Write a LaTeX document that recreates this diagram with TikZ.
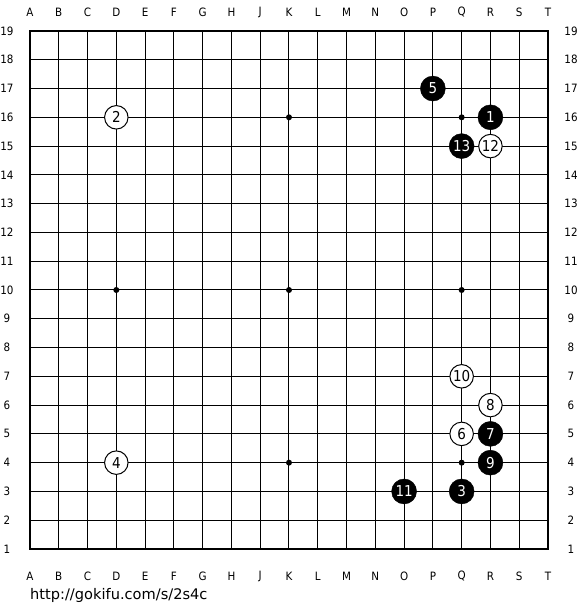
\documentclass[tikz,border=0pt]{standalone}
\usepackage{fontspec}
\setmainfont{DejaVu Sans}
\newfontfamily\condfont{DejaVu Sans Condensed}
\usetikzlibrary{positioning}

\begin{document}
\begin{tikzpicture}[
    x=28.78pt, y=28.78pt,
    bstone/.style={circle, draw=black, fill=black, inner sep=0pt,
                   minimum size=25pt, text=white, font=\condfont\fontsize{15}{15}\selectfont},
    wstone/.style={circle, draw=black, fill=white, line width=1pt, inner sep=0pt,
                   minimum size=23.5pt, text=black, font=\condfont\fontsize{15}{15}\selectfont},
    coordlbl/.style={font=\condfont\fontsize{11.5}{11.5}\selectfont, inner sep=0pt}
]
\useasboundingbox (-1.042,-2.12) rectangle (19.11,19.077);
% griglia
\foreach \i in {1,...,17}{
    \draw[line width=1pt] (\i,0) -- (\i,18);
    \draw[line width=1pt] (0,\i) -- (18,\i);
}
\draw[line width=2pt] (0,0) rectangle (18,18);
% hoshi
\foreach \x in {3,9,15}{
    \foreach \y in {3,9,15}{
        \fill (\x,\y) circle (3pt);
    }
}
% coordinate
\foreach \c [count=\i from 0] in {A,B,C,D,E,F,G,H,J,K,L,M,N,O,P,Q,R,S,T}{
    \node[coordlbl] (top\c) at (\i,18.66) {\c};
    \node[coordlbl] (bot\c) at (\i,-0.94) {\c};
}
\foreach \r in {1,...,19}{
    \node[coordlbl] (left\r) at (-0.80,\r-1) {\r};
    \node[coordlbl] (right\r) at (18.80,\r-1) {\r};
}
% pietre nere
\node[bstone] (m1)  at (16,15) {1};
\node[bstone] (m3)  at (15,2)  {3};
\node[bstone] (m5)  at (14,16) {5};
\node[bstone] (m7)  at (16,4)  {7};
\node[bstone] (m9)  at (16,3)  {9};
\node[bstone] (m11) at (13,2)  {11};
\node[bstone] (m13) at (15,14) {13};
% pietre bianche
\node[wstone] (m2)  at (3,15)  {2};
\node[wstone] (m4)  at (3,3)   {4};
\node[wstone] (m6)  at (15,4)  {6};
\node[wstone] (m8)  at (16,5)  {8};
\node[wstone] (m10) at (15,6)  {10};
\node[wstone] (m12) at (16,14) {12};
% sorgente
\node[anchor=base west, inner sep=0pt, font=\fontsize{14.6}{14.6}\selectfont]
    (url) at (0,-1.74) {http://gokifu.com/s/2s4c};
\end{tikzpicture}
\end{document}
